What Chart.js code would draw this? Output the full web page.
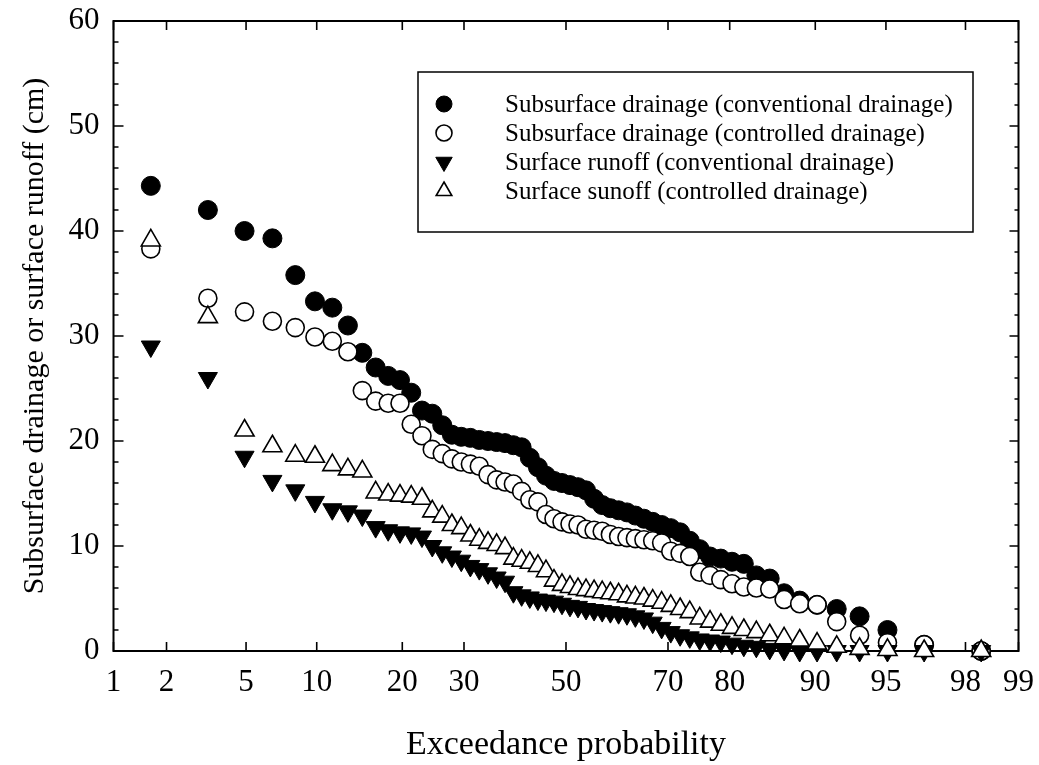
<!DOCTYPE html>
<html>
<head>
<meta charset="utf-8">
<script src="https://cdn.jsdelivr.net/npm/chart.js@4/dist/chart.umd.min.js"></script>
<style>
html,body{margin:0;padding:0;background:#fff;}
#wrap{width:1039px;height:765px;position:relative;}
canvas{display:block;}
</style>
</head>
<body>
<div id="wrap"><canvas id="c" width="1039" height="765"></canvas></div>
<script>
// ---- data (exceedance probability in %, values in cm) ----
const exceedanceProb = [1.64,3.28,4.92,6.56,8.20,9.84,11.48,13.11,14.75,16.39,
  18.03,19.67,21.31,22.95,24.59,26.23,27.87,29.51,31.15,32.79,
  34.43,36.07,37.70,39.34,40.98,42.62,44.26,45.90,47.54,49.18,
  50.82,52.46,54.10,55.74,57.38,59.02,60.66,62.30,63.93,65.57,
  67.21,68.85,70.49,72.13,73.77,75.41,77.05,78.69,80.33,81.97,
  83.61,85.25,86.89,88.52,90.16,91.80,93.44,95.08,96.72,98.36];

const subsurfaceConventional = [44.3,42.0,40.0,39.3,35.8,33.3,32.7,31.0,28.4,27.0,
  26.2,25.8,24.6,22.9,22.6,21.5,20.6,20.4,20.3,20.1,
  20.0,19.9,19.8,19.6,19.4,18.4,17.5,16.7,16.2,16.0,
  15.8,15.6,15.3,14.5,13.9,13.6,13.4,13.2,12.9,12.6,
  12.3,12.0,11.7,11.3,10.5,9.7,9.0,8.8,8.5,8.3,
  7.2,6.9,5.5,4.8,4.4,4.0,3.3,2.0,0.6,0];

const subsurfaceControlled = [38.3,33.6,32.3,31.4,30.8,29.9,29.5,28.5,24.8,23.8,
  23.6,23.6,21.6,20.5,19.2,18.8,18.3,18.0,17.8,17.6,
  16.8,16.3,16.1,15.9,15.2,14.4,14.2,13.0,12.6,12.3,
  12.1,12.0,11.6,11.5,11.4,11.1,10.9,10.8,10.7,10.6,
  10.5,10.3,9.5,9.3,9.0,7.5,7.2,6.8,6.4,6.1,
  6.0,5.9,4.9,4.5,4.4,2.8,1.5,0.8,0.6,0];

const runoffConventional = [29.0,26.0,18.5,16.2,15.3,14.2,13.5,13.3,12.9,11.8,
  11.5,11.3,11.2,10.9,10.0,9.4,9.0,8.6,8.1,7.8,
  7.4,7.0,6.6,5.6,5.3,5.1,4.9,4.8,4.7,4.5,
  4.3,4.2,4.0,3.9,3.8,3.7,3.6,3.5,3.3,3.1,
  2.7,2.2,1.8,1.5,1.3,1.1,1.0,0.9,0.7,0.5,
  0.4,0.2,0.1,0,0,0,0,0,0,0];

const runoffControlled = [39.1,31.8,21.0,19.5,18.6,18.5,17.7,17.3,17.1,15.1,
  14.9,14.8,14.7,14.5,13.3,12.8,12.0,11.7,11.0,10.6,
  10.3,10.1,9.8,8.8,8.6,8.4,8.1,7.6,6.7,6.3,
  6.1,5.9,5.8,5.7,5.6,5.5,5.4,5.2,5.1,5.0,
  4.8,4.6,4.3,4.0,3.7,3.1,2.8,2.5,2.2,2.0,
  1.8,1.5,1.2,1.0,0.7,0.4,0.2,0.1,0,0];

const seriesLabels = [
  'Subsurface drainage (conventional drainage)',
  'Subsurface drainage (controlled drainage)',
  'Surface runoff (conventional drainage)',
  'Surface sunoff (controlled drainage)'
];
const xTickValues = [1,2,5,10,20,30,50,70,80,90,95,98,99];
const yTickValues = [0,10,20,30,40,50,60];
const yMinorTickValues = [2,4,6,8,12,14,16,18,22,24,26,28,32,34,36,38,42,44,46,48,52,54,56,58];
const xTitle = 'Exceedance probability';
const yTitle = 'Subsurface drainage or surface runoff (cm)';

// ---- normal probability (probit) scale ----
function probit(p){
  const a=[-3.969683028665376e+01,2.209460984245205e+02,-2.759285104469687e+02,1.383577518672690e+02,-3.066479806614716e+01,2.506628277459239e+00];
  const b=[-5.447609879822406e+01,1.615858368580409e+02,-1.556989798598866e+02,6.680131188771972e+01,-1.328068155288572e+01];
  const c=[-7.784894002430293e-03,-3.223964580411365e-01,-2.400758277161838e+00,-2.549732539343734e+00,4.374664141464968e+00,2.938163982698783e+00];
  const d=[7.784695709041462e-03,3.224671290700398e-01,2.445134137142996e+00,3.754408661907416e+00];
  const pl=0.02425, ph=1-pl; let q,r;
  if(p<pl){q=Math.sqrt(-2*Math.log(p));return (((((c[0]*q+c[1])*q+c[2])*q+c[3])*q+c[4])*q+c[5])/((((d[0]*q+d[1])*q+d[2])*q+d[3])*q+1);}
  if(p<=ph){q=p-0.5;r=q*q;return (((((a[0]*r+a[1])*r+a[2])*r+a[3])*r+a[4])*r+a[5])*q/(((((b[0]*r+b[1])*r+b[2])*r+b[3])*r+b[4])*r+1);}
  q=Math.sqrt(-2*Math.log(1-p));return -(((((c[0]*q+c[1])*q+c[2])*q+c[3])*q+c[4])*q+c[5])/((((d[0]*q+d[1])*q+d[2])*q+d[3])*q+1);
}

class ProbitScale extends Chart.Scale {
  determineDataLimits(){
    this.min = (this.options.min !== undefined) ? this.options.min : 1;
    this.max = (this.options.max !== undefined) ? this.options.max : 99;
  }
  buildTicks(){ return xTickValues.map(v => ({value: v})); }
  getLabelForValue(v){ return String(v); }
  _z(v){ return probit(v/100); }
  getPixelForValue(v){
    const z0 = this._z(this.min), z1 = this._z(this.max);
    return this.getPixelForDecimal((this._z(v) - z0) / (z1 - z0));
  }
  getValueForPixel(px){
    const dec = this.getDecimalForPixel(px);
    const z0 = this._z(this.min), z1 = this._z(this.max);
    const z = z0 + dec * (z1 - z0);
    let lo = 0.0001, hi = 99.9999;
    for (let i = 0; i < 50; i++) { const m = (lo+hi)/2; if (this._z(m) < z) lo = m; else hi = m; }
    return (lo+hi)/2;
  }
}
ProbitScale.id = 'probit';
ProbitScale.defaults = {};
Chart.register(ProbitScale);

const FONT = '"Liberation Serif", "Times New Roman", Times, serif';

function pts(vals){ return vals.map((v,i) => ({x: exceedanceProb[i], y: v})); }

const datasets = [
  {label: seriesLabels[0], data: pts(subsurfaceConventional), pointStyle:'circle', pointRadius:9.5,
   backgroundColor:'#000', borderColor:'#000', pointBorderWidth:1, order:4, clip:false},
  {label: seriesLabels[1], data: pts(subsurfaceControlled), pointStyle:'circle', pointRadius:9,
   backgroundColor:'#fff', borderColor:'#000', pointBorderWidth:1.6, order:3, clip:false},
  {label: seriesLabels[2], data: pts(runoffConventional), pointStyle:'triangle', pointRotation:180, pointRadius:11,
   backgroundColor:'#000', borderColor:'#000', pointBorderWidth:1, order:2, clip:false},
  {label: seriesLabels[3], data: pts(runoffControlled), pointStyle:'triangle', pointRadius:11,
   backgroundColor:'#fff', borderColor:'#000', pointBorderWidth:1.6, order:1, clip:false}
];

const framePlugin = {
  id: 'frame',
  beforeDatasetsDraw(chart){
    const {ctx, chartArea:a, scales:{x, y}} = chart;
    ctx.save();
    ctx.strokeStyle = '#000';
    ctx.lineWidth = 1.6;
    ctx.beginPath();
    xTickValues.forEach(v => {
      const px = x.getPixelForValue(v);
      ctx.moveTo(px, a.bottom); ctx.lineTo(px, a.bottom - 9);
      ctx.moveTo(px, a.top); ctx.lineTo(px, a.top + 9);
    });
    yTickValues.forEach(v => {
      const py = y.getPixelForValue(v);
      ctx.moveTo(a.left, py); ctx.lineTo(a.left + 10, py);
      ctx.moveTo(a.right, py); ctx.lineTo(a.right - 9, py);
    });
    yMinorTickValues.forEach(v => {
      const py = y.getPixelForValue(v);
      ctx.moveTo(a.left, py); ctx.lineTo(a.left + 5, py);
      ctx.moveTo(a.right, py); ctx.lineTo(a.right - 4, py);
    });
    ctx.stroke();
    ctx.lineWidth = 2;
    ctx.strokeRect(a.left, a.top, a.right - a.left, a.bottom - a.top);
    ctx.restore();
  }
};

const legendPlugin = {
  id: 'boxLegend',
  afterDraw(chart){
    const ctx = chart.ctx;
    ctx.save();
    ctx.strokeStyle = '#000';
    ctx.lineWidth = 1.5;
    ctx.fillStyle = '#fff';
    ctx.fillRect(418, 72, 555, 160);
    ctx.strokeRect(418, 72, 555, 160);
    const rowY = [104, 133, 162, 191];
    const radii = [8, 8, 9.5, 9];
    chart.data.datasets.forEach((ds, i) => {
      ctx.fillStyle = ds.backgroundColor;
      ctx.strokeStyle = ds.borderColor;
      ctx.lineWidth = ds.pointBorderWidth;
      Chart.helpers.drawPoint(ctx, {pointStyle: ds.pointStyle, rotation: ds.pointRotation || 0,
        radius: radii[i], borderWidth: ds.pointBorderWidth}, 444, rowY[i]);
      ctx.fillStyle = '#000';
      ctx.font = '25px ' + FONT;
      ctx.textBaseline = 'middle';
      ctx.textAlign = 'left';
      ctx.fillText(ds.label, 505, rowY[i] + 1);
    });
    ctx.restore();
  }
};

new Chart(document.getElementById('c'), {
  type: 'scatter',
  data: {datasets},
  options: {
    responsive: false,
    animation: false,
    events: [],
    layout: {padding: {left: 0, right: 20.5, top: 21, bottom: 0}},
    scales: {
      x: {
        type: 'probit', min: 1, max: 99, position: 'bottom',
        grid: {display: false, drawTicks: false},
        border: {display: false},
        ticks: {font: {family: FONT, size: 31}, color: '#000', padding: 13, maxRotation: 0, autoSkip: false},
        title: {display: true, text: xTitle, color: '#000', font: {family: FONT, size: 34}, padding: {top: 0, bottom: 0}},
        afterFit(s){ s.height = 114; s.paddingLeft = 0; s.paddingRight = 0; }
      },
      y: {
        type: 'linear', min: 0, max: 60, position: 'left',
        afterBuildTicks(s){ s.ticks = yTickValues.map(v => ({value: v})); },
        grid: {display: false, drawTicks: false},
        border: {display: false},
        ticks: {font: {family: FONT, size: 31}, color: '#000', padding: 14},
        title: {display: true, text: yTitle, color: '#000', font: {family: FONT, size: 30}, padding: {top: 17, bottom: 0}},
        afterFit(s){ s.width = 113.5; s.paddingTop = 0; s.paddingBottom = 0; }
      }
    },
    plugins: {legend: {display: false}, tooltip: {enabled: false}}
  },
  plugins: [framePlugin, legendPlugin]
});
</script>
</body>
</html>
